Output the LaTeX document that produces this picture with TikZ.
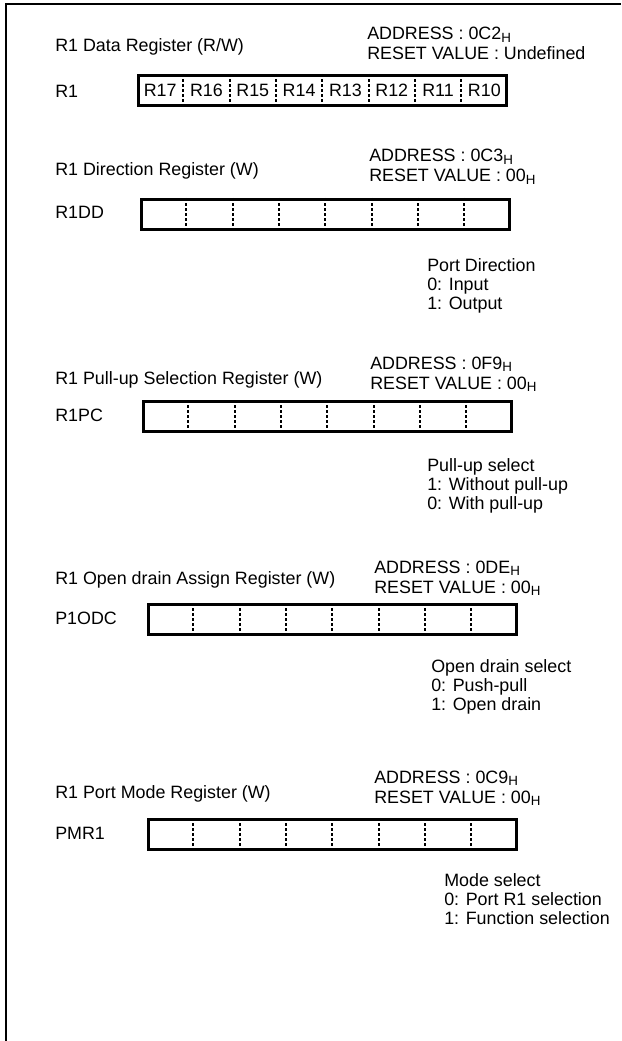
\documentclass[tikz,border=0pt]{standalone}
\usepackage{fontspec}
\setmainfont{Liberation Sans}
\usetikzlibrary{calc}
\newcommand{\hs}{\raisebox{-0.25ex}{\fontsize{10}{10}\selectfont H}}
\begin{document}
\begin{tikzpicture}[x=0.75pt,y=-0.75pt,
  txt/.style={inner sep=0pt, anchor=base west, font=\fontsize{13.4}{15}\selectfont},
  bittxt/.style={inner sep=0pt, anchor=center, font=\fontsize{13.4}{15}\selectfont},
  regbox/.style={draw, line width=1.9pt, rectangle, inner sep=0pt, anchor=north west,
    minimum width=276pt, minimum height=22.5pt},
  divider/.style={line width=1.5pt, dash pattern=on 2.2pt off 1.6pt},
  frame/.style={line width=1.6pt}]
\useasboundingbox (0,0) rectangle (621,1041);
% outer frame
\coordinate (fbl) at (6,1041);
\coordinate (ftl) at (6,4);
\coordinate (ftr) at (621,4);
\draw[frame] (fbl) -- (ftl) -- (ftr);

% ---- Section 1
\node[txt] (t1) at (55,52) {R1 Data Register (R/W)};
\node[txt] (a1) at (367,40) {ADDRESS : 0C2\hs};
\node[txt] (r1v) at (367,60) {RESET VALUE : Undefined};
\node[txt] (l1) at (55,98) {R1};
\node[regbox] (b1) at (137,74) {};
\foreach \i/\lbl in {1/R17,2/R16,3/R15,4/R14,5/R13,6/R12,7/R11,8/R10}{
  \node[bittxt] (bit\i) at ($(b1.west)!{(\i-0.5)/8}!(b1.east)$) {\lbl};
}

% ---- Section 2
\node[txt] (t2) at (55,176) {R1 Direction Register (W)};
\node[txt] (a2) at (369,162) {ADDRESS : 0C3\hs};
\node[txt] (r2v) at (369,182) {RESET VALUE : 00\hs};
\node[txt] (l2) at (55,219) {R1DD};
\node[regbox] (b2) at (140,198) {};
\node[txt] (d2a) at (427,271) {Port Direction};
\node[txt] (d2b) at (427,290) {0: Input};
\node[txt] (d2c) at (427,309) {1: Output};

% ---- Section 3
\node[txt] (t3) at (55,384) {R1 Pull-up Selection Register (W)};
\node[txt] (a3) at (370,369) {ADDRESS : 0F9\hs};
\node[txt] (r3v) at (370,389) {RESET VALUE : 00\hs};
\node[txt] (l3) at (55,421) {R1PC};
\node[regbox] (b3) at (142,400) {};
\node[txt] (d3a) at (427,471) {Pull-up select};
\node[txt] (d3b) at (427,490) {1: Without pull-up};
\node[txt] (d3c) at (427,509) {0: With pull-up};

% ---- Section 4
\node[txt] (t4) at (55,584) {R1 Open drain Assign Register (W)};
\node[txt] (a4) at (374,573) {ADDRESS : 0DE\hs};
\node[txt] (r4v) at (374,593) {RESET VALUE : 00\hs};
\node[txt] (l4) at (55,624) {P1ODC};
\node[regbox] (b4) at (147,603) {};
\node[txt] (d4a) at (431,672) {Open drain select};
\node[txt] (d4b) at (431,691) {0: Push-pull};
\node[txt] (d4c) at (431,710) {1: Open drain};

% ---- Section 5
\node[txt] (t5) at (55,798) {R1 Port Mode Register (W)};
\node[txt] (a5) at (374,783) {ADDRESS : 0C9\hs};
\node[txt] (r5v) at (374,803) {RESET VALUE : 00\hs};
\node[txt] (l5) at (55,839) {PMR1};
\node[regbox] (b5) at (147,818) {};
\node[txt] (d5a) at (444,886) {Mode select};
\node[txt] (d5b) at (444,905) {0: Port R1 selection};
\node[txt] (d5c) at (444,924) {1: Function selection};

% dividers
\foreach \b in {b1,b2,b3,b4,b5}{
  \foreach \i in {1,...,7}{
    \draw[divider] ($(\b.north west)!{\i/8}!(\b.north east)$) -- ($(\b.south west)!{\i/8}!(\b.south east)$);
  }
}
\end{tikzpicture}
\end{document}
